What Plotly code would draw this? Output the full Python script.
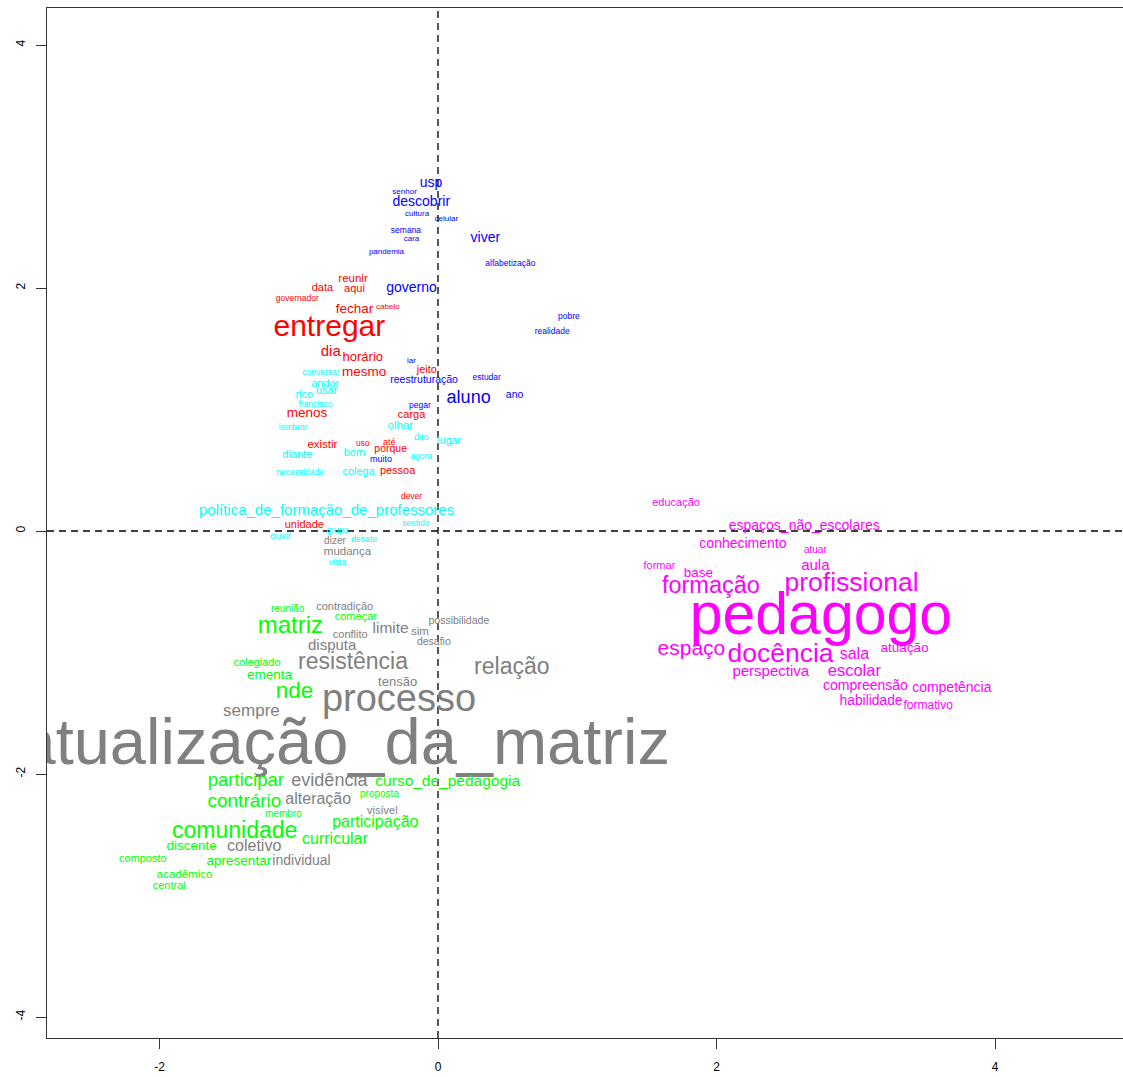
import plotly.graph_objects as go

# pixel calibration of the reference (page pixels)
PX_X0, PX_PER_X = 438.0, 139.25
PX_Y0, PX_PER_Y = 531.0, 121.5

# ---- data: word, x-coordinate, y-coordinate (factor scores), weight ----
blue_words = ["usp", "senhor", "descobrir", "cultura", "celular", "semana", "cara", "pandemia",
              "viver", "alfabetização", "governo", "pobre", "realidade", "lar", "reestruturação",
              "estudar", "aluno", "ano", "pegar", "muito"]
blue_x = [-0.05, -0.24, -0.12, -0.15, 0.06, -0.23, -0.19, -0.37,
          0.34, 0.52, -0.19, 0.94, 0.82, -0.19, -0.10,
          0.35, 0.22, 0.55, -0.13, -0.41]
blue_y = [2.86, 2.79, 2.70, 2.61, 2.57, 2.47, 2.40, 2.30,
          2.41, 2.20, 2.00, 1.76, 1.64, 1.40, 1.24,
          1.26, 1.09, 1.12, 1.03, 0.59]
blue_w = [14, 8, 14, 8, 8, 8.5, 8, 8,
          14, 8.5, 14, 8.5, 8.5, 8, 10.5,
          8.5, 18, 10.5, 8.5, 9]

red_words = ["reunir", "data", "aqui", "governador", "fechar", "cabelo", "entregar", "dia",
             "horário", "jeito", "mesmo", "menos", "carga", "existir", "uso", "até",
             "porque", "pessoa", "dever", "unidade"]
red_x = [-0.61, -0.83, -0.60, -1.01, -0.60, -0.36, -0.78, -0.77,
         -0.54, -0.08, -0.53, -0.94, -0.19, -0.83, -0.54, -0.35,
         -0.34, -0.29, -0.19, -0.96]
red_y = [2.07, 2.00, 1.99, 1.91, 1.82, 1.84, 1.67, 1.47,
         1.43, 1.32, 1.30, 0.97, 0.95, 0.71, 0.72, 0.73,
         0.67, 0.49, 0.28, 0.05]
red_w = [11.5, 11, 11, 8.5, 13.5, 8, 30, 15,
         13, 11, 13.5, 13.5, 11, 11.5, 8.5, 9,
         10.5, 11, 8.5, 11]

cyan_words = ["conversar", "andar", "usar", "rico", "francisco", "olhar", "lembrar", "dito",
              "lugar", "diante", "bom", "agora", "necessidade", "colega",
              "política_de_formação_de_professores", "ouvir", "grupo", "debate", "sentido", "vista"]
cyan_x = [-0.84, -0.81, -0.80, -0.96, -0.88, -0.27, -1.04, -0.12,
          0.08, -1.01, -0.60, -0.12, -0.99, -0.57,
          -0.80, -1.13, -0.72, -0.53, -0.16, -0.72]
cyan_y = [1.30, 1.21, 1.15, 1.12, 1.04, 0.86, 0.85, 0.77,
          0.74, 0.62, 0.64, 0.61, 0.48, 0.48,
          0.16, -0.05, 0.00, -0.07, 0.06, -0.26]
cyan_w = [8.5, 11, 11, 11, 8.5, 11.5, 8.5, 9,
          10.5, 11, 11, 8.5, 8.5, 11,
          15, 9.5, 8.5, 8.5, 8.5, 8.5]

gray_words = ["dizer", "mudança", "contradição", "possibilidade", "conflito", "limite", "sim",
              "desafio", "disputa", "resistência", "tensão", "relação", "processo", "sempre",
              "atualização_da_matriz", "evidência", "alteração", "visível", "coletivo", "individual"]
gray_x = [-0.74, -0.65, -0.67, 0.15, -0.63, -0.34, -0.13,
          -0.03, -0.76, -0.61, -0.29, 0.53, -0.28, -1.34,
          -0.67, -0.78, -0.86, -0.40, -1.32, -0.98]
gray_y = [-0.09, -0.17, -0.63, -0.74, -0.86, -0.81, -0.83,
          -0.92, -0.95, -1.09, -1.25, -1.13, -1.40, -1.49,
          -1.78, -2.06, -2.21, -2.31, -2.60, -2.72]
gray_w = [10, 11.5, 11, 10.5, 11, 15.5, 11.5,
          10.5, 15, 23, 13, 23, 38, 17,
          65, 18, 16, 11, 16, 14]

green_words = ["reunião", "começar", "matriz", "colegiado", "ementa", "nde", "participar",
               "curso_de_pedagogia", "contrário", "proposta", "membro", "participação",
               "comunidade", "curricular", "discente", "composto", "apresentar", "acadêmico", "central"]
green_x = [-1.08, -0.59, -1.06, -1.30, -1.21, -1.03, -1.38,
           0.07, -1.39, -0.42, -1.11, -0.45,
           -1.46, -0.74, -1.77, -2.12, -1.43, -1.82, -1.93]
green_y = [-0.65, -0.71, -0.79, -1.09, -1.19, -1.33, -2.06,
           -2.07, -2.23, -2.17, -2.33, -2.40,
           -2.48, -2.54, -2.60, -2.70, -2.72, -2.83, -2.92]
green_w = [10, 11, 24, 11, 13.5, 22.5, 18.5,
           15.5, 19, 10, 10, 16,
           23, 16, 13.5, 11, 13.5, 11.5, 11]

magenta_words = ["educação", "espaços_não_escolares", "conhecimento", "atuar", "formar", "base",
                 "aula", "formação", "profissional", "pedagogo", "espaço", "docência", "sala",
                 "atuação", "perspectiva", "escolar", "compreensão", "competência", "habilidade",
                 "formativo"]
magenta_x = [1.71, 2.63, 2.19, 2.71, 1.59, 1.87,
             2.71, 1.96, 2.97, 2.75, 1.82, 2.46, 2.99,
             3.35, 2.39, 2.99, 3.07, 3.69, 3.11,
             3.52]
magenta_y = [0.23, 0.04, -0.11, -0.16, -0.29, -0.35,
             -0.29, -0.46, -0.44, -0.73, -0.98, -1.02, -1.02,
             -0.97, -1.16, -1.16, -1.28, -1.30, -1.40,
             -1.44]
magenta_w = [11, 14, 14, 10, 11, 13.5,
             15, 23.5, 26.5, 59, 21, 26.5, 16,
             13.5, 15, 16.5, 14, 14, 13.8,
             12]

x_tick_vals = [-2, 0, 2, 4]
x_tick_text = ["-2", "0", "2", "4"]
y_tick_vals = [-4, -2, 0, 2, 4]
y_tick_text = ["-4", "-2", "0", "2", "4"]

classes = [
    (red_words, red_x, red_y, red_w, "#FF0000"),
    (blue_words, blue_x, blue_y, blue_w, "#0000FF"),
    (cyan_words, cyan_x, cyan_y, cyan_w, "#00FFFF"),
    (gray_words, gray_x, gray_y, gray_w, "#808080"),
    (green_words, green_x, green_y, green_w, "#00FF00"),
    (magenta_words, magenta_x, magenta_y, magenta_w, "#FF00FF"),
]

FONT = "Liberation Sans, Arial, Helvetica, sans-serif"

fig = go.Figure()
for words, xs, ys, ws, col in classes:
    fig.add_trace(go.Scatter(
        x=xs, y=ys, text=words, mode="text",
        textposition="middle center",
        textfont=dict(family=FONT, size=ws, color=col),
        cliponaxis=True,
        hoverinfo="text", showlegend=False,
    ))

# page geometry of the reference plot box
W, H = 1123, 1077
P_LEFT, P_TOP, P_RIGHT, P_BOTTOM = 47, 8, 1123, 1038
ml, mt, mr, mb = P_LEFT, P_TOP, W - P_RIGHT, H - P_BOTTOM
xr = [(P_LEFT - PX_X0) / PX_PER_X, (P_RIGHT - PX_X0) / PX_PER_X]
yr = [(PX_Y0 - P_BOTTOM) / PX_PER_Y, (PX_Y0 - P_TOP) / PX_PER_Y]

fig.update_layout(
    width=W, height=H,
    margin=dict(l=ml, r=mr, t=mt, b=mb, pad=0),
    paper_bgcolor="white", plot_bgcolor="white",
    font=dict(family=FONT, color="black", size=12),
    xaxis=dict(range=xr, showgrid=False, zeroline=False,
               showline=True, linecolor="#333333", linewidth=1, mirror=True,
               ticks="outside", ticklen=10, tickcolor="#333333",
               tickvals=x_tick_vals, ticktext=x_tick_text,
               tickfont=dict(size=12), ticklabelstandoff=8),
    yaxis=dict(range=yr, showgrid=False, zeroline=False,
               showline=True, linecolor="#333333", linewidth=1, mirror=False,
               ticks="outside", ticklen=10, tickcolor="#333333",
               tickvals=y_tick_vals, ticktext=y_tick_text, tickangle=-90,
               tickfont=dict(size=12), ticklabelstandoff=6),
    shapes=[
        dict(type="line", xref="x", yref="paper", x0=0, x1=0, y0=0, y1=1,
             line=dict(color="black", width=1.3, dash="7px,5px"), layer="below"),
        dict(type="line", xref="paper", yref="y", x0=0, x1=1, y0=0, y1=0,
             line=dict(color="black", width=1.3, dash="7px,5px"), layer="below"),
    ],
)

fig.write_html(
    "out.html",
    config={"displayModeBar": False},
    post_script="document.body.style.margin='0px';"
                "document.documentElement.style.overflow='hidden';"
                "document.body.style.overflow='hidden';",
)
